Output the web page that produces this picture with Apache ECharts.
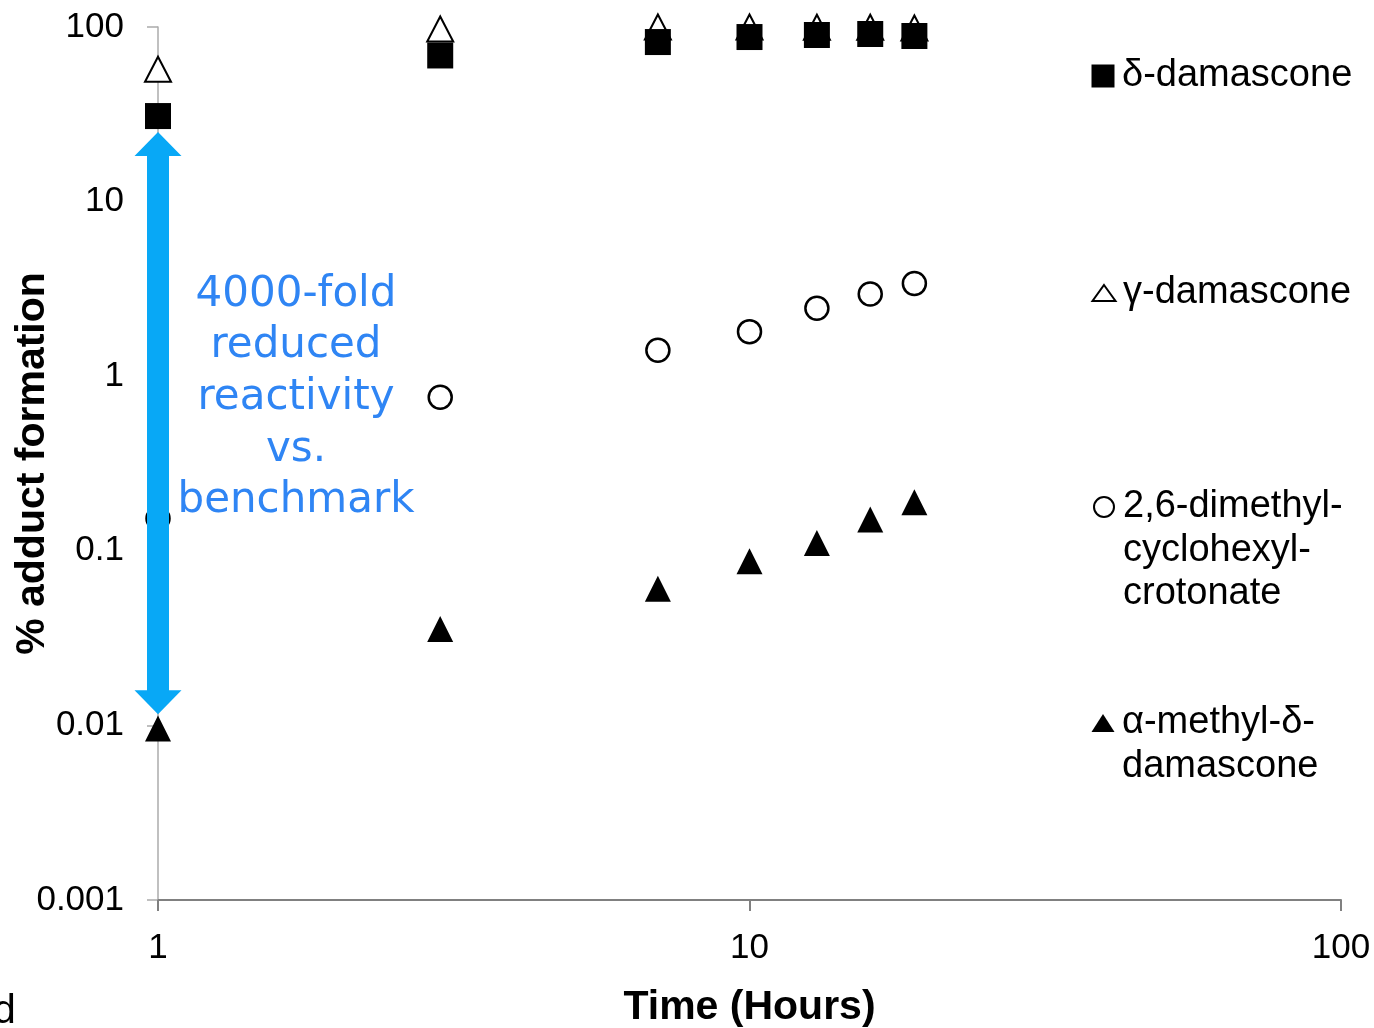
<!DOCTYPE html>
<html><head><meta charset="utf-8">
<script src="https://cdn.jsdelivr.net/npm/echarts@6.0.0/dist/echarts.min.js"></script>
<style>html,body{margin:0;padding:0;background:#fff}#c{width:1374px;height:1028px}</style>
</head><body><div id="c"></div>
<script>
// ---- data ----
const times = [1, 3, 7, 10, 13, 16, 19];
const deltaDamascone = [30.9, 68.7, 82, 87.6, 90, 91.2, 88.8];
const gammaDamascone = [57.3, 97.4, 100, 100, 99.6, 99.6, 98.7];
const crotonate = [0.153, 0.757, 1.41, 1.80, 2.45, 2.96, 3.40];
const alphaMethylDelta = [0.0096, 0.0357, 0.0607, 0.0871, 0.111, 0.151, 0.190];
const seriesNames = ['δ-damascone', 'γ-damascone', '2,6-dimethyl-cyclohexyl-crotonate', 'α-methyl-δ-damascone'];
const legendLabels = ['δ-damascone', 'γ-damascone', '2,6-dimethyl-\ncyclohexyl-\ncrotonate', 'α-methyl-δ-\ndamascone'];
const annotationText = '4000-fold\nreduced\nreactivity\nvs.\nbenchmark';
const arrowSpan = { x: 1, from: 25, to: 0.0116 };
const cornerLabel = 'd';

const pairs = arr => times.map((t, i) => [t, arr[i]]);
const FONT = 'Liberation Sans, Arial, sans-serif';

const chart = echarts.init(document.getElementById('c'), null, { renderer: 'canvas' });

// legend layout (one legend per entry, icon aligned with first text line)
const LH = 43.5;
const legendCfg = [
  { yc: 76, w: 23, h: 23 },
  { yc: 293, w: 23, h: 16 },
  { yc: 507, w: 20, h: 20 },
  { yc: 723, w: 23, h: 18 }
];
const legends = seriesNames.map((nm, i) => {
  const c = legendCfg[i];
  const n = legendLabels[i].split('\n').length;
  const left = 1103 - c.w / 2;
  const padLeft = 1122 - (left + c.w + 5);
  const txt = '\n'.repeat(n - 1) + legendLabels[i];
  return {
    data: [nm],
    left: left,
    top: c.yc - (2 * n - 1) * LH / 2,
    orient: 'vertical',
    padding: 0,
    itemWidth: c.w,
    itemHeight: c.h,
    selectedMode: false,
    formatter: () => txt,
    textStyle: {
      fontSize: 38, fontFamily: FONT, color: '#000', lineHeight: LH,
      padding: [0, 0, 0, padLeft]
    }
  };
});

const axisLabelFmt = v => String(+Number(v).toPrecision(3));

chart.setOption({
  animation: false,
  backgroundColor: '#fff',
  grid: { left: 158, right: 33, top: 27, bottom: 128, containLabel: false, outerBoundsMode: 'none' },
  legend: legends,
  xAxis: {
    type: 'log', logBase: 10, min: 1, max: 100,
    name: 'Time (Hours)', nameLocation: 'middle', nameGap: 87, nameMoveOverlap: false,
    nameTextStyle: { fontSize: 41, fontWeight: 'bold', fontFamily: FONT, color: '#000' },
    axisLine: { onZero: false, lineStyle: { color: '#808080', width: 2 } },
    axisTick: { length: 11, lineStyle: { color: '#808080', width: 2 } },
    minorTick: { show: false },
    splitLine: { show: false },
    axisLabel: { fontSize: 35, fontFamily: FONT, color: '#000', margin: 31, formatter: axisLabelFmt }
  },
  yAxis: {
    type: 'log', logBase: 10, min: 0.001, max: 100,
    name: '% adduct formation', nameLocation: 'middle', nameGap: 105, nameRotate: 90, nameMoveOverlap: false,
    nameTextStyle: { fontSize: 41, fontWeight: 'bold', fontFamily: FONT, color: '#000' },
    axisLine: { onZero: false, lineStyle: { color: '#ababab', width: 1.5 } },
    axisTick: { length: 11, lineStyle: { color: '#ababab', width: 1.5 } },
    minorTick: { show: false },
    splitLine: { show: false },
    axisLabel: { fontSize: 35, fontFamily: FONT, color: '#000', margin: 34, formatter: axisLabelFmt }
  },
  series: [
    {
      name: seriesNames[1], type: 'scatter', data: pairs(gammaDamascone), z: 2,
      symbol: 'triangle', symbolSize: [26, 25],
      itemStyle: { color: '#fff', borderColor: '#000', borderWidth: 2, opacity: 1 }
    },
    {
      name: seriesNames[0], type: 'scatter', data: pairs(deltaDamascone), z: 3,
      symbol: 'rect', symbolSize: 26,
      itemStyle: { color: '#000', opacity: 1 }
    },
    {
      name: seriesNames[2], type: 'scatter', data: pairs(crotonate), z: 2,
      symbol: 'circle', symbolSize: 23,
      itemStyle: { color: '#fff', borderColor: '#000', borderWidth: 2.5, opacity: 1 }
    },
    {
      name: seriesNames[3], type: 'scatter', data: pairs(alphaMethylDelta), z: 2,
      symbol: 'triangle', symbolSize: [26, 26],
      itemStyle: { color: '#000', opacity: 1 }
    }
  ]
});

const p1 = chart.convertToPixel({ gridIndex: 0 }, [arrowSpan.x, arrowSpan.from]);
const p2 = chart.convertToPixel({ gridIndex: 0 }, [arrowSpan.x, arrowSpan.to]);
const ax = p1[0], y1 = p1[1], y2 = p2[1];
const sw = 11, hw = 23.5, hl = 24;
chart.setOption({
  graphic: [
    {
      type: 'polygon', z: 100,
      shape: { points: [
        [ax, y1], [ax + hw, y1 + hl], [ax + sw, y1 + hl], [ax + sw, y2 - hl], [ax + hw, y2 - hl],
        [ax, y2], [ax - hw, y2 - hl], [ax - sw, y2 - hl], [ax - sw, y1 + hl], [ax - hw, y1 + hl]
      ] },
      style: { fill: '#08a8f6' }
    },
    {
      type: 'text', z: 100, x: 296, y: 398,
      style: {
        text: annotationText, fill: '#2f85f4', fontSize: 42, fontFamily: 'DejaVu Sans',
        align: 'center', verticalAlign: 'middle', lineHeight: 51.7
      }
    },
    {
      type: 'text', z: 100, x: -7, y: 1012,
      style: { text: cornerLabel, fill: '#000', fontSize: 41, fontFamily: FONT, align: 'left', verticalAlign: 'middle' }
    }
  ]
});
</script>
</body></html>
